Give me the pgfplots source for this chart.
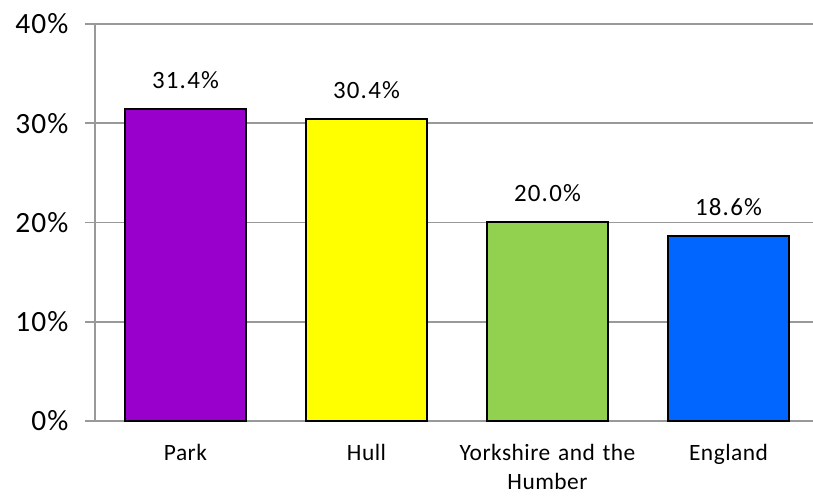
\documentclass[border=0pt]{standalone}
\usepackage{pgfplots}
\pgfplotsset{compat=1.18}
\usepackage{fontspec}
\setmainfont{Carlito}
\newfontfamily\lblfont[LetterSpace=5]{Carlito}
\newfontfamily\tickfont[LetterSpace=4]{Carlito}
\newfontfamily\catfont[LetterSpace=2]{Carlito}

\definecolor{parkpurple}{HTML}{9900CC}
\definecolor{hullyellow}{HTML}{FFFF00}
\definecolor{yorkgreen}{HTML}{92D050}
\definecolor{engblue}{HTML}{0066FF}
\definecolor{gridgray}{HTML}{999999}

\begin{document}
\begin{tikzpicture}
\useasboundingbox (-95bp,-77bp) rectangle (718bp,421bp);
\begin{axis}[%
scale only axis,
width=718bp,
height=397bp,
xmin=-0.5, xmax=3.467,
ymin=0, ymax=40,
axis x line*=bottom,
axis y line*=left,
axis line style={draw=gridgray, line width=1.5bp, -},
ytick={0,10,20,30,40},
yticklabel={\pgfmathprintnumber{\tick}\%},
/pgf/number format/assume math mode=true,
yticklabel style={font=\tickfont\fontsize{29.5}{31}\selectfont, xshift=-13bp},
ymajorgrids,
grid style={gridgray, line width=1.5bp},
tick align=outside,
ytick style={gridgray, line width=1.5bp},
major tick length=10bp,
xtick={0,1,2,3},
xticklabels={Park, Hull, {Yorkshire and the\\Humber}, England},
xtick style={draw=none},
xticklabel style={font=\catfont\fontsize{23.5}{29}\selectfont, align=center, text width=190bp, yshift=-10bp},
extra x ticks={-0.5,0.5,1.5,2.5},
extra x tick labels={},
extra x tick style={grid=none, major tick length=8bp, tick style={draw=gridgray, line width=1.5bp}},
ybar,
bar width=121bp,
bar shift=0pt,
nodes near coords={\pgfmathprintnumber[fixed,fixed zerofill,precision=1]{\pgfplotspointmeta}\%},
nodes near coords style={font=\lblfont\fontsize{25}{28}\selectfont, black, yshift=16bp},
]
\addplot [draw=black, line width=2bp, fill=parkpurple] coordinates {(0,31.4)};
\addplot [draw=black, line width=2bp, fill=hullyellow] coordinates {(1,30.4)};
\addplot [draw=black, line width=2bp, fill=yorkgreen] coordinates {(2,20.0)};
\addplot [draw=black, line width=2bp, fill=engblue] coordinates {(3,18.6)};
\end{axis}
\end{tikzpicture}
\end{document}
